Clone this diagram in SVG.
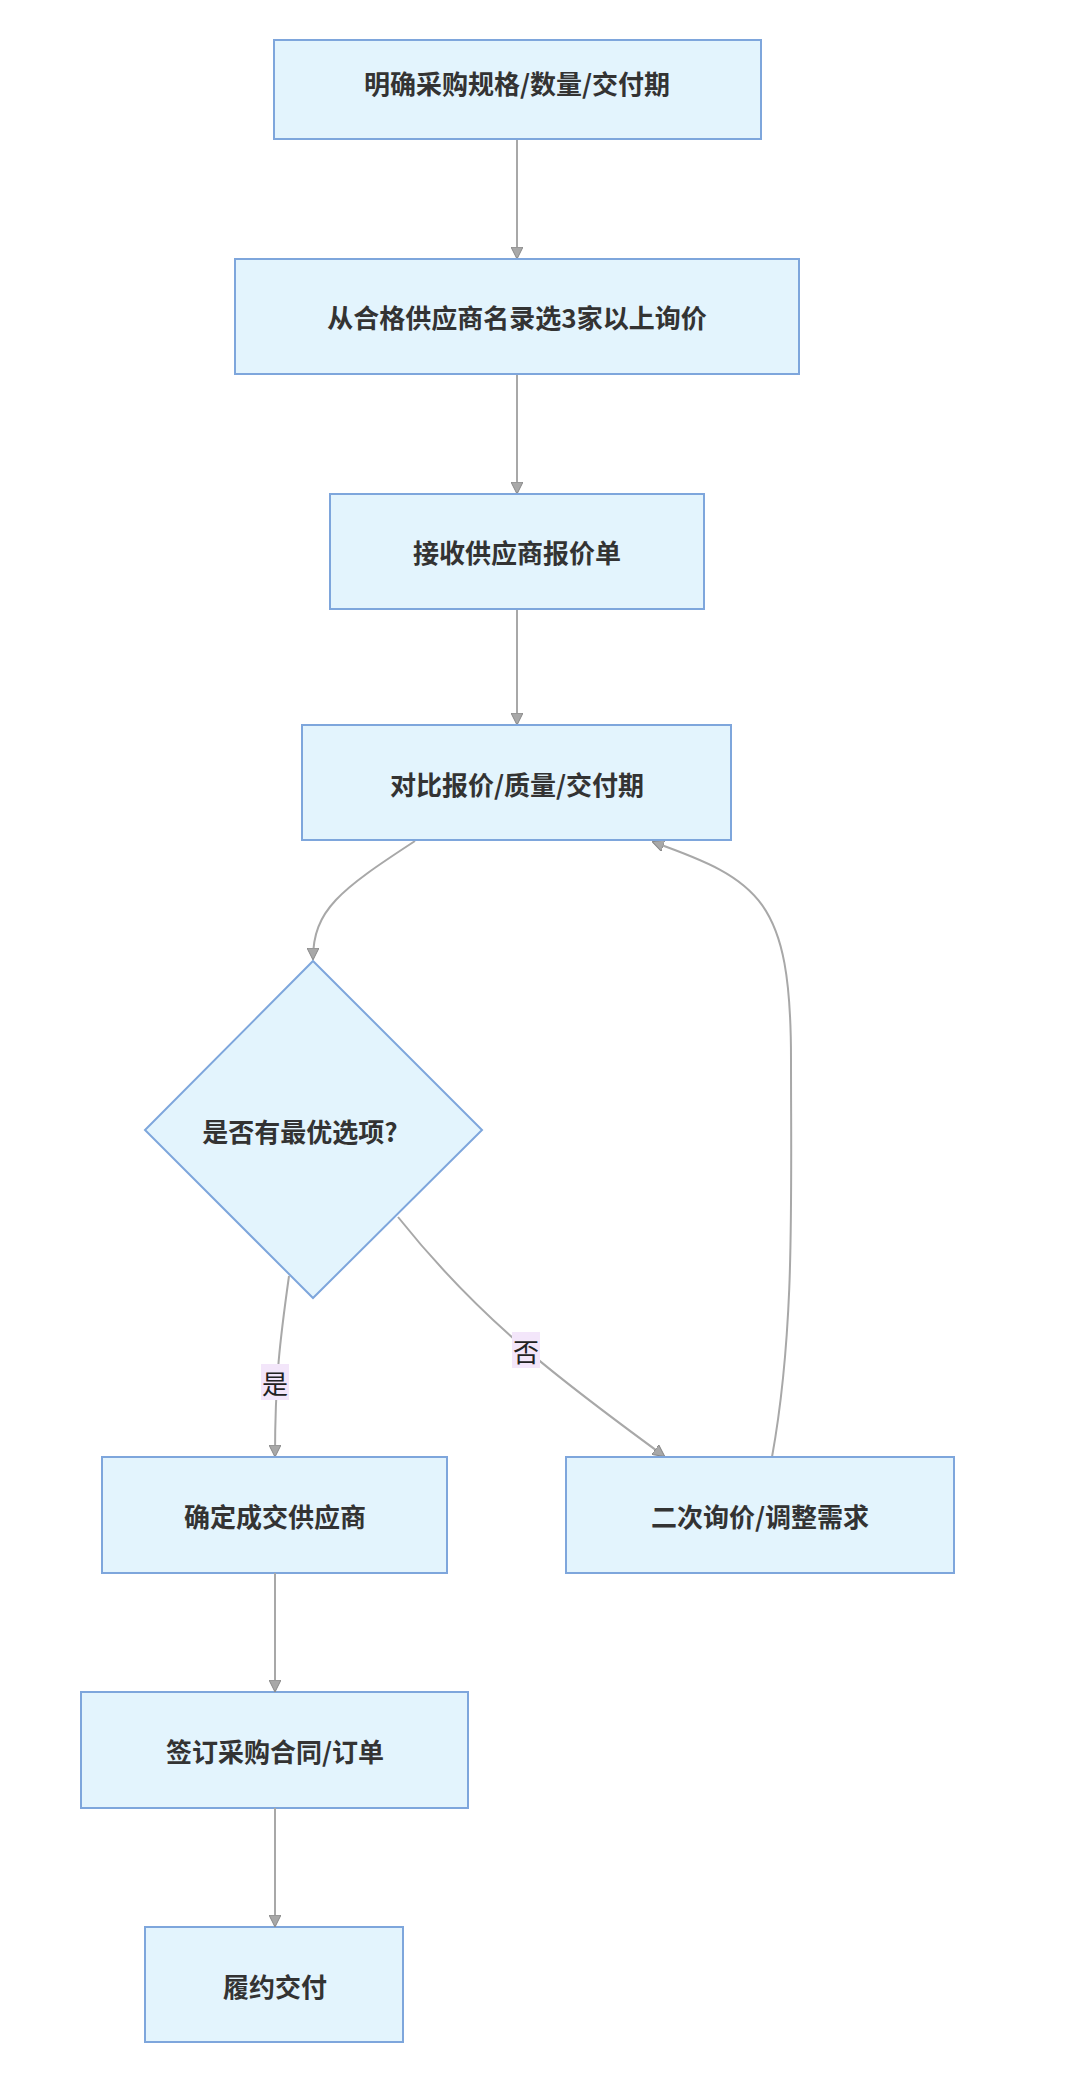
<svg xmlns="http://www.w3.org/2000/svg" width="1080" height="2079" viewBox="0 0 1080 2079">
<style>
.n{fill:#e3f4fd;stroke:#7ea6dc;stroke-width:2}
.t{font-family:"Noto Sans CJK SC","Noto Sans",sans-serif;font-weight:bold;font-size:26px;fill:#333;text-anchor:middle;dominant-baseline:central}
.e{fill:none;stroke:#a8a8a8;stroke-width:2}
.lb{fill:#f3e6fa}
.lt{font-family:"Noto Sans CJK SC",sans-serif;font-size:26px;fill:#222;text-anchor:middle;dominant-baseline:central}
</style>
<defs>
<marker id="a" viewBox="0 0 12 12" refX="11" refY="6" markerWidth="12" markerHeight="12" markerUnits="userSpaceOnUse" orient="auto">
<path d="M0,0 L12,6 L0,12 Z" fill="#a8a8a8" stroke="#888" stroke-width="1"/>
</marker>
</defs>
<rect width="1080" height="2079" fill="#fff"/>
<g id="edges">
<path class="e" d="M517,139 V258" marker-end="url(#a)"/>
<path class="e" d="M517,374 V493" marker-end="url(#a)"/>
<path class="e" d="M517,609 V724" marker-end="url(#a)"/>
<path class="e" d="M415,841 C340,890 313,910 313,959" marker-end="url(#a)"/>
<path class="e" d="M289,1276 C280,1340 275,1380 275,1456" marker-end="url(#a)"/>
<g><rect class="lb" x="261" y="1364" width="28" height="36"/><text class="lt" x="275" y="1382">是</text></g>
<path class="e" d="M398,1217 C480,1320 560,1380 664,1456" marker-end="url(#a)"/>
<g><rect class="lb" x="512" y="1332" width="28" height="36"/><text class="lt" x="526" y="1350">否</text></g>
<path class="e" d="M772,1457 C795,1330 791,1200 791,1059 C791,900 760,880 653,842" marker-end="url(#a)"/>
</g>
<g id="n1"><rect class="n" x="274" y="40" width="487" height="99"/><text class="t" x="517" y="82">明确采购规格/数量/交付期</text></g>
<g id="n2"><rect class="n" x="235" y="259" width="564" height="115"/><text class="t" x="517" y="316">从合格供应商名录选3家以上询价</text></g>
<g id="n3"><rect class="n" x="330" y="494" width="374" height="115"/><text class="t" x="517" y="551">接收供应商报价单</text></g>
<g id="n4"><rect class="n" x="302" y="725" width="429" height="115"/><text class="t" x="517" y="783">对比报价/质量/交付期</text></g>
<g id="d"><polygon class="n" points="313,961 482,1130 313,1298 145,1130"/><text class="t" x="300" y="1130">是否有最优选项?</text></g>
<g id="n5"><rect class="n" x="102" y="1457" width="345" height="116"/><text class="t" x="275" y="1515">确定成交供应商</text></g>
<g id="n6"><rect class="n" x="566" y="1457" width="388" height="116"/><text class="t" x="760" y="1515">二次询价/调整需求</text></g>
<g id="n7"><rect class="n" x="81" y="1692" width="387" height="116"/><text class="t" x="275" y="1750">签订采购合同/订单</text></g>
<g id="n8"><rect class="n" x="145" y="1927" width="258" height="115"/><text class="t" x="275" y="1985">履约交付</text></g>
<path class="e" d="M275,1573 V1691" marker-end="url(#a)"/>
<path class="e" d="M275,1808 V1926" marker-end="url(#a)"/>
</svg>
